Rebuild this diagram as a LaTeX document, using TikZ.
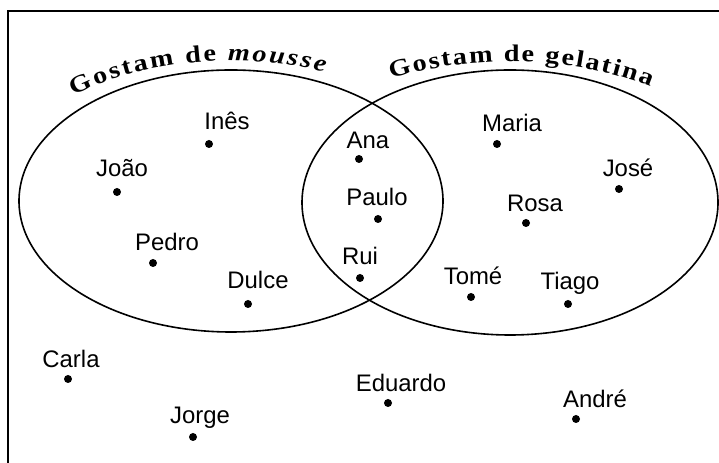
\documentclass[tikz,border=0pt]{standalone}
\usepackage{fontspec}
\setmainfont{Liberation Sans}
\newfontfamily\titleserif[FakeStretch=1.18]{Liberation Serif}
\newcommand\titlefont{\titleserif\bfseries\fontsize{24}{26}\selectfont}
\usetikzlibrary{decorations.text}

\begin{document}
\begin{tikzpicture}[
            x=1bp, y=1bp, % one unit is one pixel of the reference
            every node/.style={font=\fontsize{24}{28}\selectfont},
            dot/.style={circle, fill=black, inner sep=0pt, minimum size=8bp},
            person/.style={anchor=base, inner sep=0pt},
            vennset/.style={line width=1.6bp}
        ]

            \useasboundingbox (0,0) rectangle (719,463);

            % 1. Draw the Frame (only the top and left edges show)
            \draw[line width=1.6bp] (8,0) -- (8,452) -- (719,452);

            % 2. Draw the two Sets
            \draw[vennset] (231,262) ellipse [x radius=212bp, y radius=131bp]; % mousse
            \draw[vennset] (510,260.5) ellipse [x radius=208bp, y radius=132.5bp]; % gelatina

            % 3. Titles bent along the top of each Set
            \begin{scope}
            \titlefont
            \path[decorate, decoration={text along path, text align={fit to path},
                text={Gostam de |\itshape|mousse}}]
                (231,262) ++(131:240 and 140) arc[start angle=131, end angle=67, x radius=240bp, y radius=140bp];
            \path[decorate, decoration={text along path, text align={fit to path},
                text={Gostam de gelatina}}]
                (510,260.5) ++(119:245 and 141) arc[start angle=119, end angle=55, x radius=245bp, y radius=141bp];
            \end{scope}

            % 4. Only mousse
            \node[dot] (ines) at (209,319) {};
            \node[person] (ines-l) at (227,333) {Inês};
            \node[dot] (joao) at (117,271) {};
            \node[person] (joao-l) at (122,286) {João};
            \node[dot] (pedro) at (153,200) {};
            \node[person] (pedro-l) at (167,212) {Pedro};
            \node[dot] (dulce) at (248,159) {};
            \node[person] (dulce-l) at (258,174) {Dulce};

            % 5. Both (the lens in the middle)
            \node[dot] (ana) at (359,304) {};
            \node[person] (ana-l) at (368,314) {Ana};
            \node[dot] (paulo) at (378,244) {};
            \node[person] (paulo-l) at (377,257) {Paulo};
            \node[dot] (rui) at (360,185) {};
            \node[person] (rui-l) at (360,198) {Rui};

            % 6. Only gelatina
            \node[dot] (maria) at (497,319) {};
            \node[person] (maria-l) at (512,331) {Maria};
            \node[dot] (jose) at (619,274) {};
            \node[person] (jose-l) at (628,286) {José};
            \node[dot] (rosa) at (526,240) {};
            \node[person] (rosa-l) at (535,251) {Rosa};
            \node[dot] (tome) at (471,166) {};
            \node[person] (tome-l) at (473,178) {Tomé};
            \node[dot] (tiago) at (568,159) {};
            \node[person] (tiago-l) at (570,173) {Tiago};

            % 7. Neither
            \node[dot] (carla) at (68,84) {};
            \node[person] (carla-l) at (71,95) {Carla};
            \node[dot] (jorge) at (193,26) {};
            \node[person] (jorge-l) at (200,39) {Jorge};
            \node[dot] (eduardo) at (388,60) {};
            \node[person] (eduardo-l) at (401,71) {Eduardo};
            \node[dot] (andre) at (576,44) {};
            \node[person] (andre-l) at (595,55) {André};

        \end{tikzpicture}
\end{document}
